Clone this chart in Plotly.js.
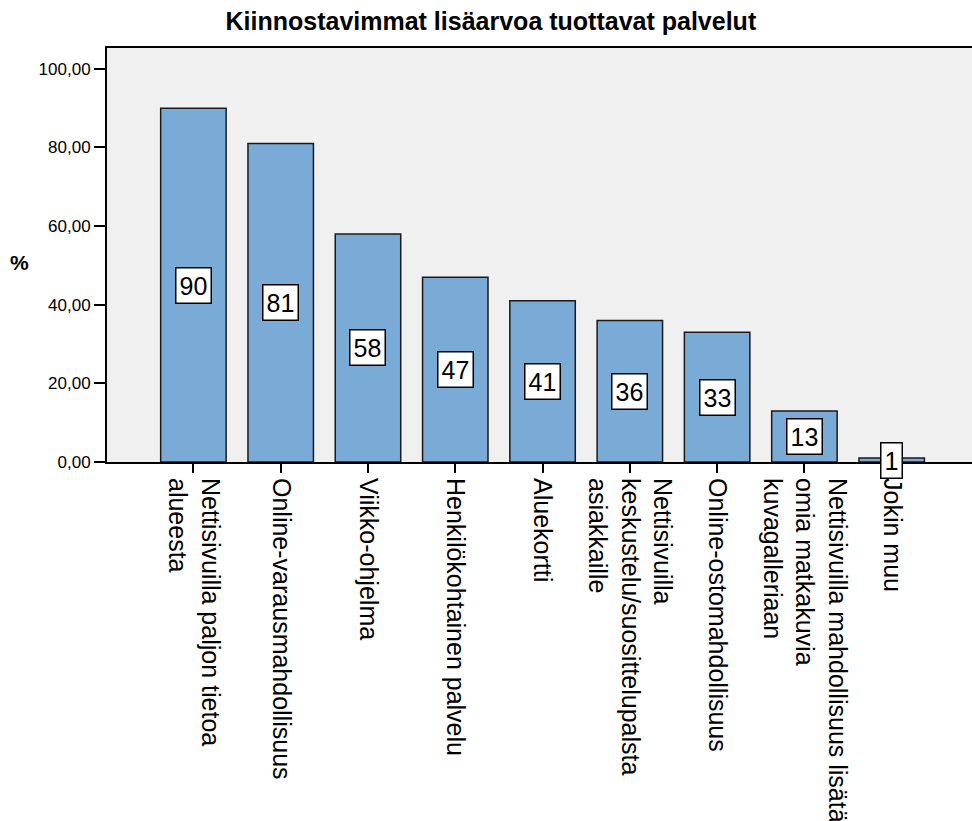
<!DOCTYPE html>
<html>
<head>
<meta charset="utf-8">
<script src="https://cdn.plot.ly/plotly-3.0.1.min.js"></script>
<style>
  html, body { margin: 0; padding: 0; background: #ffffff; overflow: hidden; }
  #chart { width: 972px; height: 821px; }
</style>
</head>
<body>
<div id="chart"></div>
<script>
const categories = [
  "Nettisivuilla paljon tietoa<br>alueesta",
  "Online-varausmahdollisuus",
  "Viikko-ohjelma",
  "Henkilökohtainen palvelu",
  "Aluekortti",
  "Nettisivuilla<br>keskustelu/suosittelupalsta<br>asiakkaille",
  "Online-ostomahdollisuus",
  "Nettisivuilla mahdollisuus lisätä<br>omia matkakuvia<br>kuvagalleriaan",
  "Jokin muu"
];
const values = [90, 81, 58, 47, 41, 36, 33, 13, 1];
const yTicks = [0, 20, 40, 60, 80, 100];
const chartTitle = "Kiinnostavimmat lisäarvoa tuottavat palvelut";
const yTitle = "%";

const FONT = "Liberation Sans, Arial, Helvetica, sans-serif";
const idx = categories.map((c, i) => i);

const trace = {
  type: "bar",
  x: idx,
  y: values,
  width: 0.75,
  marker: { color: "#7aaad6", line: { color: "#1a1a1a", width: 1.5 } },
  hoverinfo: "skip"
};

const valueLabels = values.map((v, i) => ({
  x: i, y: v / 2, xref: "x", yref: "y",
  text: String(v), showarrow: false,
  font: { family: FONT, size: 25, color: "#000" },
  bgcolor: "#ffffff", bordercolor: "#000000", borderwidth: 1.5, borderpad: 3,
  xanchor: "center", yanchor: "middle"
}));

valueLabels.push({
  x: -0.1006, y: 0.483, xref: "paper", yref: "paper",
  text: "<b>" + yTitle + "</b>", showarrow: false,
  font: { family: FONT, size: 21, color: "#000" },
  xanchor: "center", yanchor: "middle"
});

const layout = {
  width: 972, height: 821,
  margin: { l: 107, r: 0, t: 48, b: 359 },
  paper_bgcolor: "#ffffff",
  plot_bgcolor: "#f0f0f0",
  separators: ", ",
  showlegend: false,
  title: {
    text: "<b>" + chartTitle + "</b>",
    font: { family: FONT, size: 25, color: "#000" },
    xref: "container", x: 0.505, xanchor: "center",
    yref: "container", y: 1 - 21 / 821, yanchor: "middle"
  },
  xaxis: {
    range: [-0.99, 8.92],
    tickmode: "array", tickvals: idx, ticktext: categories,
    tickangle: 90,
    ticks: "outside", ticklen: 9, tickwidth: 2, tickcolor: "#000",
    showline: true, linecolor: "#000", linewidth: 2, mirror: true,
    showgrid: false, zeroline: false,
    tickfont: { family: FONT, size: 25, color: "#000" },
    automargin: false, fixedrange: true
  },
  yaxis: {
    range: [0, 105.3],
    tickmode: "array", tickvals: yTicks,
    tickformat: ".2f",
    ticks: "outside", ticklen: 11, tickwidth: 2, tickcolor: "#000",
    showline: true, linecolor: "#000", linewidth: 2, mirror: false,
    showgrid: false, zeroline: false,
    tickfont: { family: FONT, size: 17, color: "#000" },
    automargin: false, fixedrange: true
  },
  annotations: valueLabels
};

Plotly.newPlot("chart", [trace], layout, { displayModeBar: false, staticPlot: true });
</script>
</body>
</html>
